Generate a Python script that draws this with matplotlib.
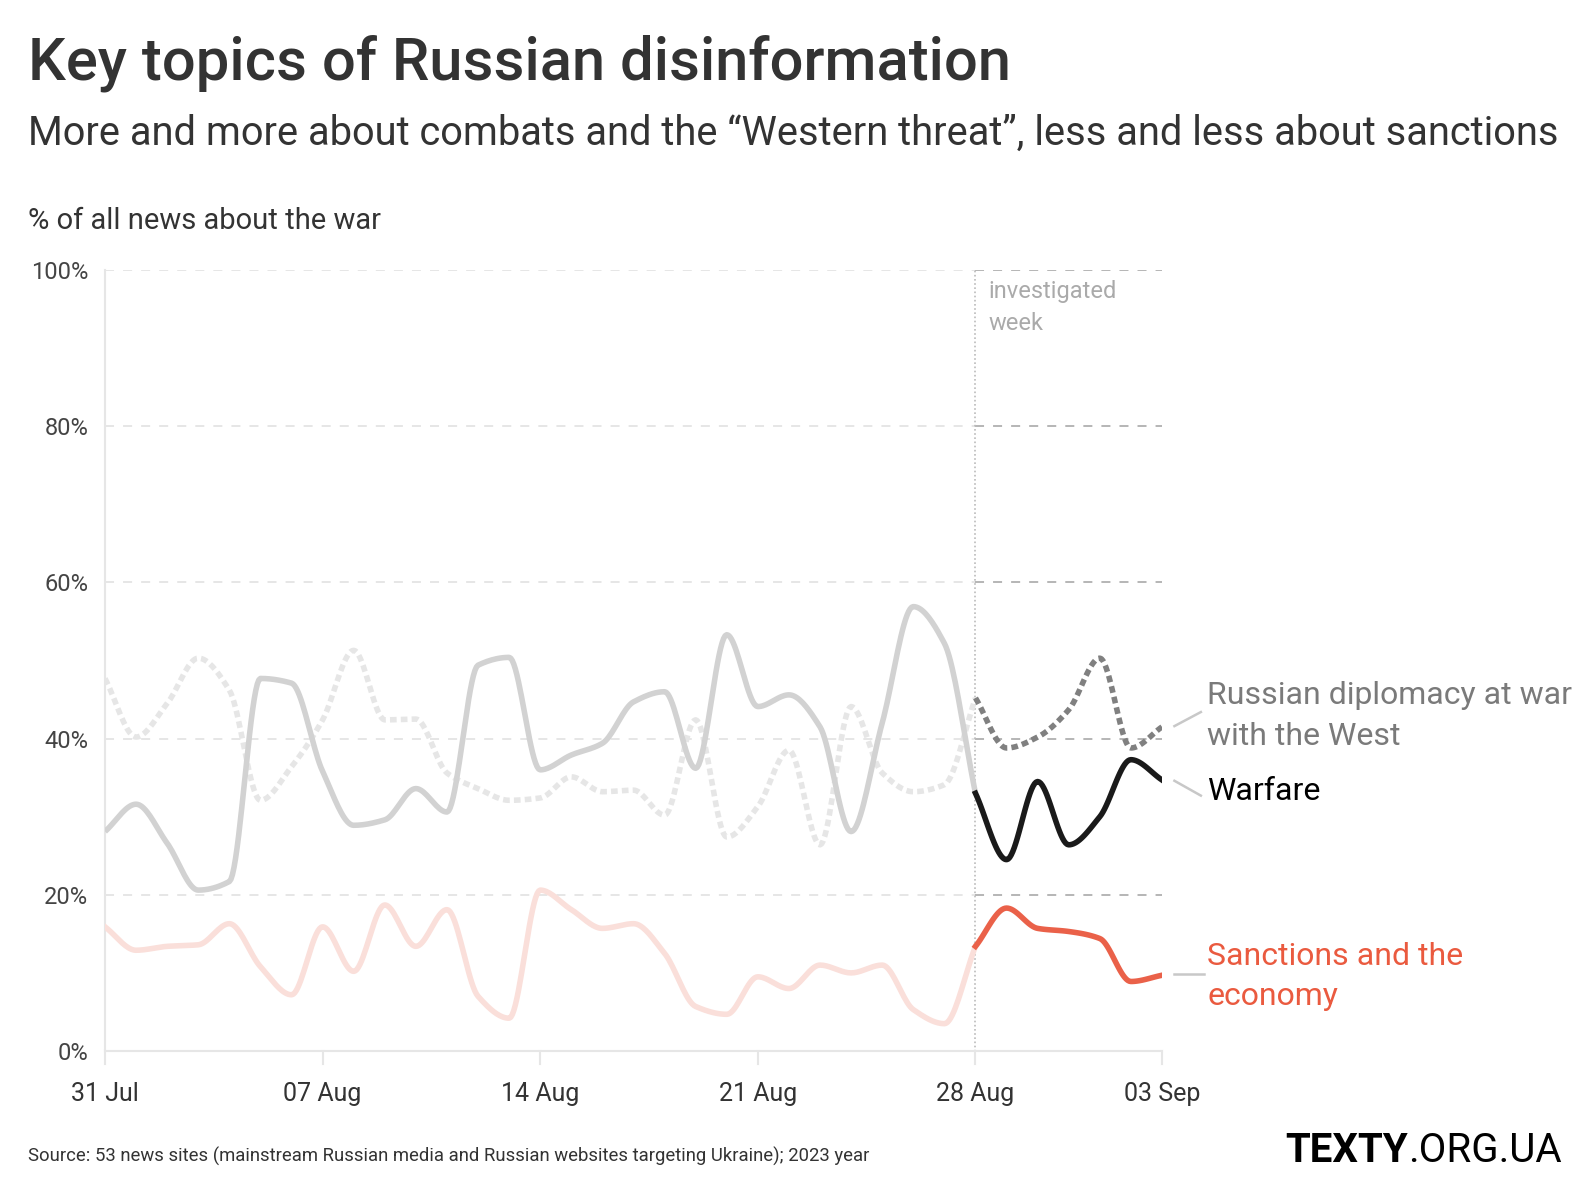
import numpy as np
import pandas as pd
import matplotlib
matplotlib.use("Agg")
import matplotlib.pyplot as plt
import matplotlib.dates as mdates

# daily share of all war news, % (31 Jul .. 03 Sep 2023)
dates = pd.date_range("2023-07-31", "2023-09-03", freq="D")
warfare = [28.1, 31.6, 26.6, 20.6, 21.7, 47.7, 47.1, 35.8, 28.9, 29.6,
           33.6, 30.6, 49.4, 50.4, 36.0, 37.9, 39.4, 44.7, 46.0, 36.2,
           53.3, 44.1, 45.6, 41.5, 28.1, 42.0, 56.9, 52.2, 33.0,
           24.5, 34.5, 26.4, 30.0, 37.3, 34.7]
diplomacy = [47.7, 40.2, 44.5, 50.3, 46.2, 32.1, 36.4, 42.4, 51.3, 42.4,
             42.5, 35.6, 33.6, 32.1, 32.4, 35.1, 33.2, 33.4, 30.2, 42.4,
             27.4, 31.3, 38.5, 26.4, 44.1, 35.6, 33.2, 34.1, 45.2,
             38.8, 40.2, 43.7, 50.3, 38.8, 41.5]
sanctions = [15.9, 12.9, 13.4, 13.6, 16.3, 10.8, 7.2, 15.9, 10.2, 18.7,
             13.4, 18.1, 7.0, 4.2, 20.6, 18.1, 15.7, 16.3, 12.5, 5.7,
             4.7, 9.5, 8.0, 11.0, 10.0, 11.0, 5.3, 3.5, 13.4,
             18.3, 15.7, 15.3, 14.4, 8.9, 9.7]
week_start = pd.Timestamp("2023-08-28")
tick_dates = ["2023-07-31", "2023-08-07", "2023-08-14", "2023-08-21", "2023-08-28", "2023-09-03"]
y_ticks = [0, 20, 40, 60, 80, 100]

plt.rcParams['font.family'] = ['Roboto', 'DejaVu Sans']

W, H = 1590, 1196
fig = plt.figure(figsize=(W / 100, H / 100), dpi=100)
ax = fig.add_axes([105 / W, 1 - 1051 / H, (1162 - 105) / W, (1051 - 270) / H])


def monotone(x, y, n=20):
    # monotone cubic (Fritsch-Carlson), like d3.curveMonotoneX
    x = np.asarray(x, float)
    y = np.asarray(y, float)
    h = np.diff(x)
    d = np.diff(y) / h
    m = np.zeros_like(y)
    m[0], m[-1] = d[0], d[-1]
    for i in range(1, len(y) - 1):
        if d[i - 1] * d[i] <= 0:
            m[i] = 0
        else:
            m[i] = 3 * (h[i - 1] + h[i]) / ((2 * h[i] + h[i - 1]) / d[i - 1] + (h[i] + 2 * h[i - 1]) / d[i])
    xs, ys = [], []
    for i in range(len(x) - 1):
        t = np.linspace(0, 1, n, endpoint=False)
        h00 = 2 * t**3 - 3 * t**2 + 1
        h10 = t**3 - 2 * t**2 + t
        h01 = -2 * t**3 + 3 * t**2
        h11 = t**3 - t**2
        xs.append(x[i] + t * h[i])
        ys.append(h00 * y[i] + h10 * h[i] * m[i] + h01 * y[i + 1] + h11 * h[i] * m[i + 1])
    xs.append([x[-1]])
    ys.append([y[-1]])
    return np.concatenate(xs), np.concatenate(ys)


xn = mdates.date2num(dates)
xw = mdates.date2num(week_start)
x0, x1 = xn[0], xn[-1]
ax.set_xlim(x0, x1)
ax.set_ylim(0, 100)

# grid
for v in y_ticks[1:]:
    ax.plot([x0, xw], [v, v], color="#e4e4e4", lw=1.3, dashes=(5, 5), zorder=1)
    ax.plot([xw, x1], [v, v], color="#b0b0b0", lw=1.3, dashes=(5, 5), zorder=1)
ax.plot([x0, x1], [0, 0], color="#e6e6e6", lw=1.5, zorder=1, clip_on=False)
ax.plot([x0, x0], [0, 100], color="#e6e6e6", lw=1.5, zorder=1, clip_on=False)
ax.plot([xw, xw], [-1.7, 100], color="#bbbbbb", lw=1.2, ls=(0, (1, 1.5)), zorder=1, clip_on=False)
for td in tick_dates:
    xt = mdates.date2num(pd.Timestamp(td))
    ax.plot([xt, xt], [0, -1.7], color="#e6e6e6", lw=1.5, clip_on=False)

k = list(dates).index(week_start)
dot = (1.2, 0.75)
lw = 4.0
# earlier weeks, faded
sx, sy = monotone(xn[:k + 1], diplomacy[:k + 1])
ax.plot(sx, sy, color="#e6e6e6", lw=lw, dashes=dot, zorder=2)
sx, sy = monotone(xn[:k + 1], warfare[:k + 1])
ax.plot(sx, sy, color="#d2d2d2", lw=lw, zorder=3, solid_capstyle="butt")
sx, sy = monotone(xn[:k + 1], sanctions[:k + 1])
ax.plot(sx, sy, color="#fadfda", lw=lw, zorder=2)
# investigated week
sx, sy = monotone(xn[k:], diplomacy[k:])
ax.plot(sx, sy, color="#808080", lw=lw, dashes=dot, zorder=4)
sx, sy = monotone(xn[k:], warfare[k:])
ax.plot(sx, sy, color="#1a1a1a", lw=lw, zorder=4)
sx, sy = monotone(xn[k:], sanctions[k:])
ax.plot(sx, sy, color="#ea6149", lw=lw, zorder=4)

ax.set_xticks([mdates.date2num(pd.Timestamp(t)) for t in tick_dates])
ax.set_xticklabels([pd.Timestamp(t).strftime("%d %b") for t in tick_dates])
ax.set_yticks(y_ticks)
ax.set_yticklabels([f"{v}%" for v in y_ticks])
ax.tick_params(axis="x", length=0, pad=22, labelsize=18, labelcolor="#333333")
ax.tick_params(axis="y", length=0, pad=12, labelsize=17, labelcolor="#444444")
for s in ax.spines.values():
    s.set_visible(False)

# labels on the right
day = xn[1] - xn[0]
lx = x1 + 1.45 * day
ax.plot([x1 + 0.4 * day, x1 + 1.25 * day], [41.6, 43.4], color="#c8c8c8", lw=1.8, clip_on=False)
ax.plot([x1 + 0.4 * day, x1 + 1.25 * day], [34.6, 32.7], color="#c8c8c8", lw=1.8, clip_on=False)
ax.plot([x1 + 0.4 * day, x1 + 1.35 * day], [9.8, 9.8], color="#c8c8c8", lw=1.8, clip_on=False)
ax.text(lx, 42.9, "Russian diplomacy at war\nwith the West", color="#7a7a7a", fontsize=23,
        va="center", ha="left", linespacing=1.5, clip_on=False)
ax.text(lx, 33.2, "Warfare", color="#000000", fontsize=23, va="center", ha="left", clip_on=False)
ax.text(lx, 9.55, "Sanctions and the\neconomy", color="#ea5a3f", fontsize=23,
        va="center", ha="left", linespacing=1.5, clip_on=False)
ax.text(xw + 0.42 * day, 95.2, "investigated\nweek", color="#aaaaaa", fontsize=17,
        va="center", ha="left", linespacing=1.45)

# titles
fig.text(28 / W, 1 - 79 / H, "Key topics of Russian disinformation", fontsize=43,
         fontweight="medium", color="#333333", va="baseline")
fig.text(28 / W, 1 - 145 / H,
         "More and more about combats and the \u201cWestern threat\u201d, less and less about sanctions",
         fontsize=28.7, color="#333333", va="baseline")
fig.text(28 / W, 1 - 229 / H, "% of all news about the war", fontsize=21, color="#333333", va="baseline")
fig.text(28 / W, 1 - 1162 / H,
         "Source: 53 news sites (mainstream Russian media and Russian websites targeting Ukraine); 2023 year",
         fontsize=13.3, color="#333333", va="baseline")
t2 = fig.text(1562 / W, 1 - 1162 / H, ".ORG.UA", fontsize=29, color="#000000", va="baseline", ha="right")
fig.canvas.draw()
bb = t2.get_window_extent()
fig.text(bb.x0 / W, 1 - 1162 / H, "TEXTY", fontsize=29, fontweight="bold", color="#000000",
         va="baseline", ha="right")

fig.savefig("out.png", dpi=100)
